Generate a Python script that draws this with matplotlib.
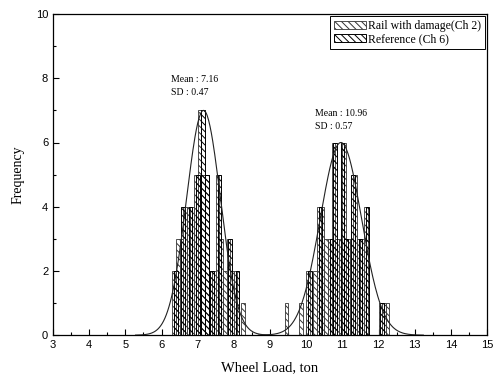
import numpy as np
import matplotlib
matplotlib.use('Agg')
import matplotlib.pyplot as plt

# bin centres (ton) and counts
damage_x = [6.35, 6.45, 6.55, 6.65, 6.75, 6.85, 6.95, 7.05, 7.15, 7.25, 7.35, 7.45,
            7.55, 7.65, 7.75, 7.85, 7.95, 8.05, 8.25, 9.45, 9.85, 10.05, 10.25,
            10.35, 10.45, 10.55, 10.65, 10.75, 10.85, 10.95, 11.05, 11.15, 11.25,
            11.35, 11.45, 11.55, 11.65, 12.05, 12.15, 12.25]
damage_n = [2, 3, 3, 4, 4, 4, 5, 7, 5, 5, 2, 2,
            5, 3, 2, 3, 2, 2, 1, 1, 1, 2, 2,
            4, 4, 3, 3, 6, 3, 3, 6, 3, 3,
            5, 3, 3, 4, 1, 1, 1]

ref_x = [6.4, 6.6, 6.8, 7.0, 7.15, 7.25, 7.4, 7.6, 7.9, 8.1, 10.1, 10.4, 10.7,
         10.8, 11.0, 11.1, 11.3, 11.5, 11.7, 12.1]
ref_n = [2, 4, 4, 5, 7, 5, 2, 5, 3, 2, 2, 4, 3,
         6, 6, 3, 5, 3, 4, 1]

# normal fits printed on the chart
fit_mean = [7.16, 10.96]
fit_sd = [0.47, 0.57]
fit_peak = [7.0, 6.0]

plt.rcParams['hatch.linewidth'] = 0.7
serif = 'Liberation Serif'
sans = 'Liberation Sans'

fig = plt.figure(figsize=(5.01, 3.80), dpi=100)
ax = fig.add_axes([0.106, 0.118, 0.866, 0.845])

ax.bar(damage_x, damage_n, width=0.1, facecolor='white', edgecolor='#333333',
       linewidth=0.6, hatch='\\\\\\\\\\', label='Rail with damage(Ch 2)', zorder=2)
ax.bar(ref_x, ref_n, width=0.1, facecolor='none', edgecolor='black',
       linewidth=0.7, hatch='\\\\\\\\\\', label='Reference (Ch 6)', zorder=3)

for m, s, p in zip(fit_mean, fit_sd, fit_peak):
    xs = np.linspace(m - 4 * s, m + 4 * s, 200)
    ax.plot(xs, p * np.exp(-0.5 * ((xs - m) / s) ** 2), color='#222222', lw=0.8, zorder=4)

ax.text(6.25, 7.95, 'Mean : 7.16', fontsize=7, family=serif, va='center')
ax.text(6.25, 7.55, 'SD : 0.47', fontsize=7, family=serif, va='center')
ax.text(10.25, 6.9, 'Mean : 10.96', fontsize=7, family=serif, va='center')
ax.text(10.25, 6.5, 'SD : 0.57', fontsize=7, family=serif, va='center')

ax.set_xlim(3, 15)
ax.set_ylim(0, 10)
ax.set_xticks(range(3, 16))
ax.set_xticks(np.arange(3, 15.01, 0.5), minor=True)
ax.set_yticks(range(0, 11, 2))
ax.set_yticks(range(0, 11), minor=True)
ax.tick_params(which='both', direction='in', labelsize=8, width=0.8)
ax.tick_params(which='major', length=4)
ax.tick_params(which='minor', length=2)
for lab in ax.get_xticklabels() + ax.get_yticklabels():
    lab.set_family(sans)
for sp in ax.spines.values():
    sp.set_linewidth(0.9)

ax.set_xlabel('Wheel Load, ton', fontsize=10.5, family=serif, labelpad=8)
ax.set_ylabel('Frequency', fontsize=10, family=serif, labelpad=8)

leg = ax.legend(loc='upper right', prop={'family': serif, 'size': 8.5},
                fancybox=False, edgecolor='black', framealpha=1,
                handlelength=2.7, handleheight=0.7, borderaxespad=0.15,
                labelspacing=0.1, handletextpad=0.2, borderpad=0.35)
leg.get_frame().set_linewidth(0.7)

fig.savefig('out.png', dpi=100)
